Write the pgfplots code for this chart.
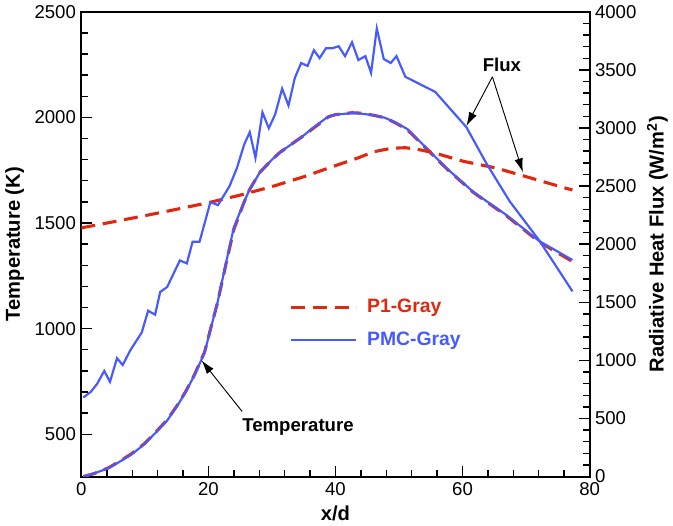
\documentclass[border=0pt]{standalone}
\usepackage{pgfplots}
\pgfplotsset{compat=1.18}
\usepackage{fontspec}
\setmainfont{Liberation Sans}
\usetikzlibrary{arrows.meta}
\definecolor{pmcblue}{RGB}{70,90,255}
\definecolor{pred}{RGB}{225,40,15}

\pgfplotsset{
  common/.style={
    scale only axis,
    width=328pt, height=300pt,
    xmin=0, xmax=80,
    font=\fontsize{12}{14}\selectfont,
    /pgf/number format/assume math mode=true,
    /pgf/number format/1000 sep={},
    axis line style={black, line width=1.3pt},
    major tick length=7pt, minor tick length=4.3pt,
    tick style={black, line width=0.9pt},
    tick align=inside,
  },
}

\begin{document}
\begin{tikzpicture}
\begin{axis}[
  common,
  ymin=300, ymax=2500,
  xtick={0,20,40,60,80}, minor x tick num=4,
  ytick={500,1000,1500,2000,2500}, minor y tick num=4,
  xtick pos=bottom, ytick pos=left,
  xlabel={\fontsize{13}{15}\selectfont\bfseries x/d},
  ylabel={\fontsize{13}{15}\selectfont\bfseries Temperature (K)},
  legend cell align=left,
  legend style={draw=none, fill=none, at={(0.4,0.395)}, anchor=north west,
    row sep=7pt, font=\fontsize{12.5}{14}\selectfont\bfseries,
    nodes={inner xsep=6pt}},
  legend image code/.code={\draw[#1] (0pt,0pt) -- (42pt,0pt);},
]
\addplot[pred, line width=2pt, dash pattern=on 9pt off 5pt] coordinates {
(0.3,300) (2,314) (4.3,342) (6,372) (7.9,408) (10,458) (11.6,507) (13.5,568)
(15.2,642) (16.5,707) (17.8,782) (19.4,890) (20.3,995) (21.4,1120) (22.9,1325)
(24,1470) (25.6,1598) (26.5,1660) (28.1,1740) (30,1800) (31.2,1833) (34.9,1912)
(36,1937) (38.9,2003) (40,2013) (42.6,2022) (44,2020) (46,2010) (47.8,1998)
(49.5,1973) (51.3,1942) (54.4,1850) (57.5,1757) (61.7,1645) (66.8,1537)
(72.1,1410) (77.3,1318)
};
\addlegendentry{\textcolor{pred}{P1-Gray}}
\addplot[pmcblue, line width=1.4pt] coordinates {
(0.3,300) (2,315) (4.3,340) (6,370) (7.9,405) (10,455) (11.6,505) (13.5,565)
(15.2,640) (16.5,705) (17.8,780) (19.4,887) (20.3,994) (21.4,1120) (22.9,1330)
(24,1479) (25.6,1600) (26.5,1660) (28.1,1740) (30,1800) (31.2,1833) (34.9,1912)
(36,1940) (38.9,2005) (40,2013) (42.6,2020) (44,2018) (46,2010) (47.8,1998)
(49.5,1975) (51.3,1945) (54.4,1852) (57.5,1759) (61.7,1647) (66.8,1540)
(72.1,1414) (77.3,1325)
};
\addlegendentry{\textcolor{pmcblue}{PMC-Gray}}
\node[font=\fontsize{12}{14}\selectfont\bfseries] at (axis cs:66.2,2248) {Flux};
\draw[-{Latex[length=9pt,width=5.5pt]}, line width=0.6pt] (axis cs:64.7,2192) -- (axis cs:60.6,1959);
\draw[-{Latex[length=9pt,width=5.5pt]}, line width=0.6pt] (axis cs:64.7,2192) -- (axis cs:69.5,1740);
\node[font=\fontsize{12}{14}\selectfont\bfseries] at (axis cs:34.1,533) {Temperature};
\draw[-{Latex[length=9pt,width=5.5pt]}, line width=0.6pt] (axis cs:25.3,608) -- (axis cs:18.9,850);
\end{axis}
\begin{axis}[
  common,
  ymin=0, ymax=4000,
  axis x line=none,
  axis y line*=right,
  ytick={0,500,1000,1500,2000,2500,3000,3500,4000}, minor y tick num=4,
  ylabel={\fontsize{13}{15}\selectfont\bfseries Radiative Heat Flux (W/m$^{\mathbf{2}}$)},
]
\addplot[pred, line width=2pt, dash pattern=on 9pt off 5pt] coordinates {
(0,2140) (5,2192) (10,2245) (15,2300) (20,2357) (25,2422) (30,2495) (35,2580)
(38.9,2655) (43.6,2743) (46,2795) (48.8,2825) (51,2830) (53,2815) (55.5,2786)
(60.2,2712) (65.3,2655) (70.5,2573) (75.7,2490) (77.3,2466)
};
\addplot[pmcblue, line width=1.4pt] coordinates {
(0.3,680) (1.5,730) (2.5,800) (3.6,909) (4.5,815) (5.6,1019) (6.5,960) (7.7,1087)
(9.5,1240) (10.5,1427) (11.6,1393) (12.4,1588) (13.5,1631) (15.5,1860) (16.6,1834)
(17.5,2021) (18.6,2021) (20.3,2361) (21.5,2336) (23.3,2497) (24.5,2658) (25.6,2854)
(26.5,2964) (27.4,2743) (28.5,3134) (29.5,2998) (30.5,3117) (31.6,3338) (32.6,3193)
(33.6,3431) (34.6,3559) (35.6,3533) (36.6,3669) (37.5,3601) (38.5,3686) (39.5,3686)
(40.5,3703) (41.5,3618) (42.6,3737) (43.6,3584) (44.7,3618) (45.6,3474) (46.5,3856)
(47.6,3593) (48.7,3559) (49.6,3618) (51,3440) (55.7,3310) (60.6,3007) (63.7,2700)
(67.4,2370) (72.1,2030) (77.3,1594)
};
\end{axis}
\end{tikzpicture}
\end{document}
